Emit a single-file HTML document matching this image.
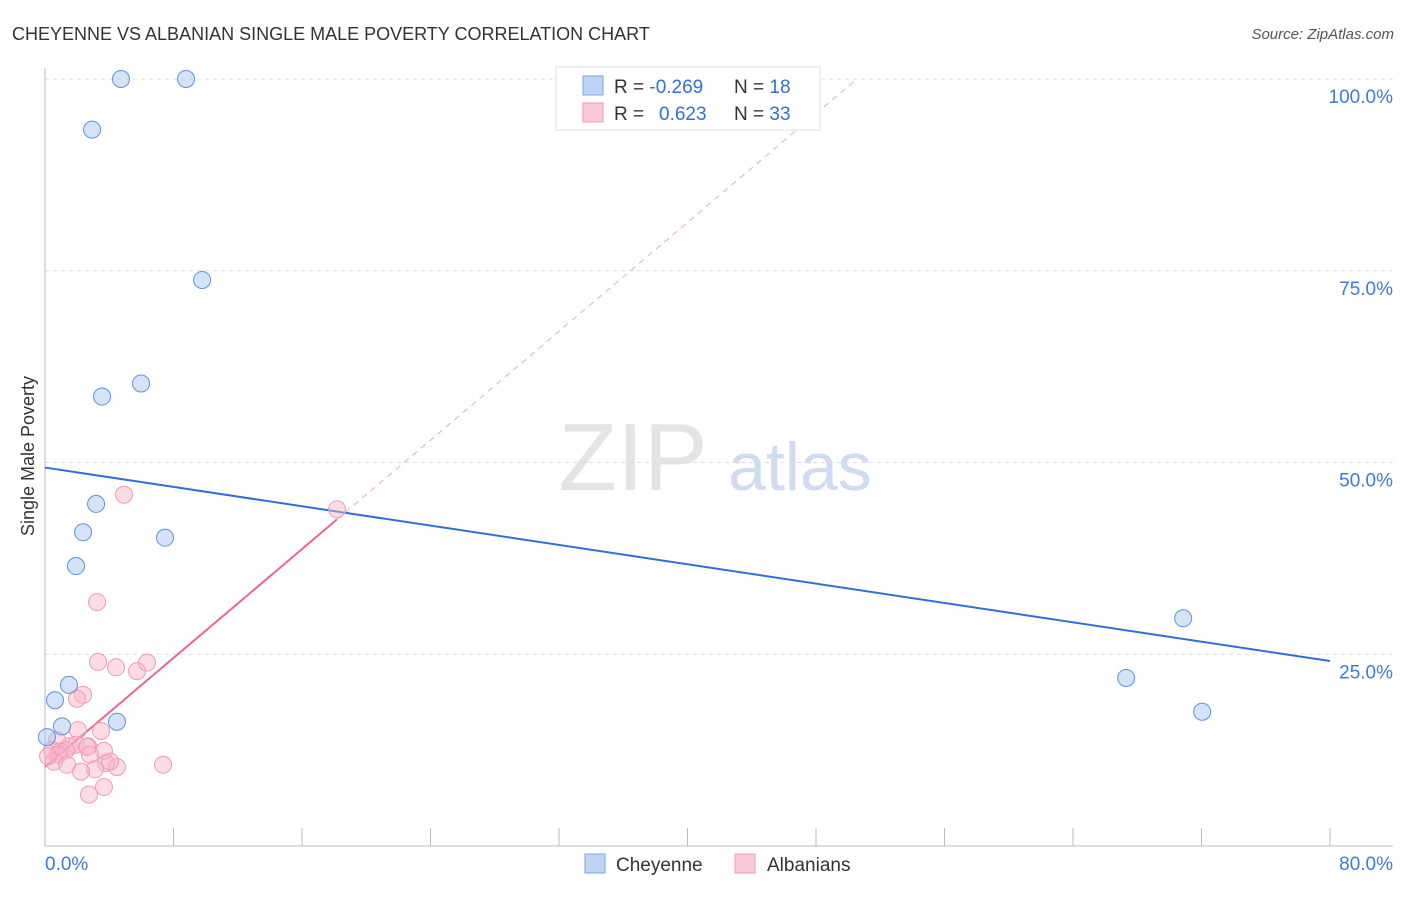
<!DOCTYPE html>
<html><head><meta charset="utf-8"><style>
body{margin:0;background:#fff;font-family:"Liberation Sans",sans-serif}
svg text{font-family:"Liberation Sans",sans-serif}
</style></head><body>
<svg id="chart" width="1406" height="892" viewBox="0 0 1406 892">
<text x="12" y="40" font-size="18" fill="#333">CHEYENNE VS ALBANIAN SINGLE MALE POVERTY CORRELATION CHART</text>
<text x="1394" y="39" font-size="15" fill="#555" font-style="italic" text-anchor="end">Source: ZipAtlas.com</text>
<text x="633" y="490" font-size="96" fill="#e4e4e4" font-family="Liberation Serif" text-anchor="middle">ZIP</text>
<text x="800" y="490" font-size="68" fill="#cfdcf0" text-anchor="middle">atlas</text>
<text transform="translate(34,456) rotate(-90)" font-size="18" fill="#333" text-anchor="middle">Single Male Poverty</text>
<g id="grid"></g><g id="axes"></g><g id="lines"></g><g id="pts"></g>
<g>
<rect x="556" y="67" width="264" height="63" fill="#fff" stroke="#ddd"/>
<rect x="583" y="76" width="20" height="19" fill="#bdd4f5" stroke="#7aa6e6"/>
<rect x="583" y="103" width="20" height="19" fill="#fbcad8" stroke="#f09ab4"/>
<text x="614" y="93" font-size="19" fill="#333">R = <tspan fill="#2f6fd6">-0.269</tspan><tspan x="734">N = </tspan><tspan fill="#2f6fd6">18</tspan></text>
<text x="614" y="120" font-size="19" fill="#333">R = <tspan x="659" fill="#2f6fd6">0.623</tspan><tspan x="734">N = </tspan><tspan fill="#2f6fd6">33</tspan></text>
</g>
<g>
<rect x="585" y="854" width="20" height="19" fill="#bdd4f5" stroke="#7aa6e6"/>
<text x="616" y="871" font-size="19" fill="#333">Cheyenne</text>
<rect x="735" y="854" width="20" height="19" fill="#fbcad8" stroke="#f09ab4"/>
<text x="767" y="871" font-size="19" fill="#333">Albanians</text>
</g>
</svg>
<script>
const yTicks=[25,50,75,100];
const yTickLabels=["25.0%","50.0%","75.0%","100.0%"];
const xTickLabels=["0.0%","80.0%"];
const cheyenneX=[4.73,8.78,2.93,9.78,5.98,3.55,3.18,2.37,7.47,1.93,1.49,0.62,1.06,4.48,0.12,70.86,67.31,72.04];
const cheyenneY=[100,100,93.4,73.8,60.3,58.6,44.6,40.9,40.2,36.5,21.0,19.0,15.6,16.2,14.2,29.7,21.9,17.5];
const albX=[4.92,18.18,3.24,3.30,4.42,5.73,6.35,2.37,1.99,2.05,1.49,1.93,3.49,2.68,0.75,0.44,0.93,2.62,3.67,2.80,1.31,3.80,4.48,3.11,2.24,4.05,0.81,0.56,1.37,7.35,2.74,3.67,0.19];
const albY=[45.8,43.9,31.8,24.0,23.3,22.8,23.9,19.7,19.2,15.1,13.0,13.2,15.0,13.0,13.8,12.5,12.3,12.9,12.4,11.9,12.5,10.8,10.3,10.0,9.7,11.0,11.9,11.0,10.6,10.6,6.7,7.7,11.7];
const NS='http://www.w3.org/2000/svg';
const X=v=>45+v*(1330-45)/80, Y=v=>846-v*(846-79)/100;
function mk(tag,attrs,parent){const e=document.createElementNS(NS,tag);for(const k in attrs)e.setAttribute(k,attrs[k]);document.getElementById(parent).appendChild(e);return e;}
yTicks.forEach((t,i)=>{
 const l=mk('line',{x1:45,x2:1393,y1:Y(t),y2:Y(t),stroke:'#ddd','stroke-dasharray':'4,4'},'grid');
 
 
 const tx=mk('text',{x:1393,y:Y(t)+24,'font-size':19,fill:'#3d7bd9','text-anchor':'end'},'grid');
 tx.textContent=yTickLabels[i];
 
 
});
let a=mk('line',{x1:45,x2:45,y1:68,y2:846,stroke:'#bbb'},'axes');


a=mk('line',{x1:45,x2:1393,y1:846,y2:846,stroke:'#bbb'},'axes');


for(let i=0;i<=10;i++){const t=mk('line',{x1:X(i*8),x2:X(i*8),y1:828,y2:846,stroke:'#bbb'},'axes');
 
 }
[[0,'start',45],[80,'end',1393]].forEach((d,i)=>{const t=mk('text',{x:d[2],y:870,'font-size':19,fill:'#3d7bd9','text-anchor':d[1]},'axes');t.textContent=xTickLabels[i];
 
 });
function fit(xs,ys){const n=xs.length,mx=xs.reduce((a,b)=>a+b)/n,my=ys.reduce((a,b)=>a+b)/n;let sxy=0,sxx=0;xs.forEach((x,i)=>{sxy+=(x-mx)*(ys[i]-my);sxx+=(x-mx)**2});const b=sxy/sxx;return [my-b*mx,b];}
const bf=fit(cheyenneX,cheyenneY);
let ln=mk('line',{x1:X(0),y1:Y(bf[0]),x2:X(80),y2:Y(bf[0]+bf[1]*80),stroke:'#2f6fd6','stroke-width':2},'lines');


const pf=fit(albX,albY);const xm=Math.max(...albX);
ln=mk('line',{x1:X(0),y1:Y(pf[0]),x2:X(xm),y2:Y(pf[0]+pf[1]*xm),stroke:'#e8668e','stroke-width':2},'lines');


const xe=(100-pf[0])/pf[1];
ln=mk('line',{x1:X(xm),y1:Y(pf[0]+pf[1]*xm),x2:X(xe),y2:Y(100),stroke:'#f0a8bd','stroke-width':1,'stroke-dasharray':'6,5'},'lines');


albX.forEach((x,i)=>{const c=mk('circle',{cx:X(x),cy:Y(albY[i]),r:8.5,fill:'rgba(248,180,200,0.45)',stroke:'#f09ab4','stroke-width':1},'pts');
 
 });
cheyenneX.forEach((x,i)=>{const c=mk('circle',{cx:X(x),cy:Y(cheyenneY[i]),r:8.5,fill:'rgba(170,200,240,0.5)',stroke:'#5b93e0','stroke-width':1},'pts');
 
 });
</script>
</body></html>
